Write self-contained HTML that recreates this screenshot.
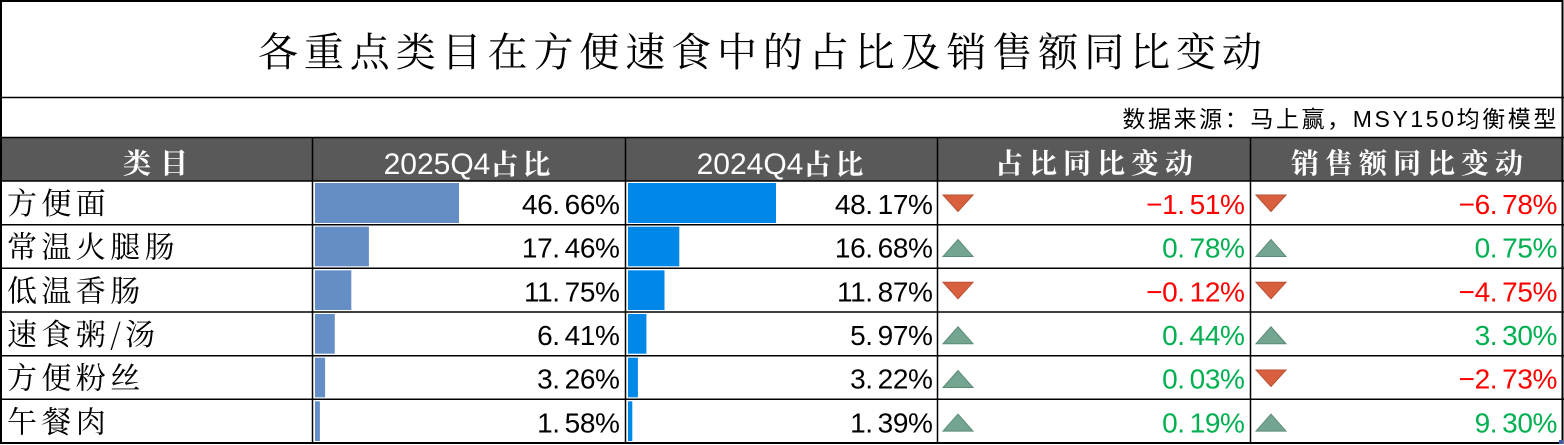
<!DOCTYPE html>
<html><head><meta charset="utf-8"><style>
html,body{margin:0;padding:0;background:#fff;}
svg{display:block;}
.cn{font-family:"Noto Serif CJK SC","Noto Sans CJK SC",serif;}
.num{font-family:"Liberation Sans","Noto Sans CJK SC",sans-serif;}
</style></head><body>
<svg width="1564" height="445" viewBox="0 0 1564 445" xmlns="http://www.w3.org/2000/svg">
<rect x="0" y="0" width="1564" height="445" fill="#fff"/>
<rect x="1" y="137.5" width="1562" height="43.5" fill="#595959"/>
<text class="cn" x="258" y="66" font-size="40" letter-spacing="5.9" fill="#000">各重点类目在方便速食中的占比及销售额同比变动</text>
<text x="1559" y="127" font-size="23" letter-spacing="2.6" text-anchor="end" fill="#000" font-family="Liberation Sans, Noto Sans CJK SC, sans-serif">数据来源：马上赢，MSY150均衡模型</text>
<g fill="#fff">
<text class="cn" x="160" y="173" font-size="28" font-weight="bold" letter-spacing="9" text-anchor="middle">类目</text>
<text x="469" y="174" text-anchor="middle"><tspan class="num" font-size="30">2025Q4</tspan><tspan class="cn" font-size="28" font-weight="bold" letter-spacing="4">占比</tspan></text>
<text x="782" y="174" text-anchor="middle"><tspan class="num" font-size="30">2024Q4</tspan><tspan class="cn" font-size="28" font-weight="bold" letter-spacing="4">占比</tspan></text>
<text class="cn" x="1097" y="173" font-size="28" font-weight="bold" letter-spacing="6" text-anchor="middle">占比同比变动</text>
<text class="cn" x="1410" y="173" font-size="28" font-weight="bold" letter-spacing="6" text-anchor="middle">销售额同比变动</text>
</g>
<g fill="#668EC6">
<rect x="315" y="183" width="144" height="40"/>
<rect x="315" y="226.7" width="53.9" height="39.6"/>
<rect x="315" y="270.3" width="36.3" height="39.7"/>
<rect x="315" y="314" width="19.8" height="39.7"/>
<rect x="315" y="357.7" width="10.1" height="39.6"/>
<rect x="315" y="401.3" width="4.9" height="39.7"/>
</g>
<g fill="#0088E8">
<rect x="628" y="183" width="148" height="40"/>
<rect x="628" y="226.7" width="51.3" height="39.6"/>
<rect x="628" y="270.3" width="36.5" height="39.7"/>
<rect x="628" y="314" width="18.4" height="39.7"/>
<rect x="628" y="357.7" width="9.9" height="39.6"/>
<rect x="628" y="401.3" width="4.3" height="39.7"/>
</g>
<g class="cn" font-size="30" letter-spacing="4.4" fill="#000">
<text x="7" y="214">方便面</text>
<text x="7" y="257.7">常温火腿肠</text>
<text x="7" y="301.3">低温香肠</text>
<text x="7" y="345">速食粥/汤</text>
<text x="7" y="388.7">方便粉丝</text>
<text x="7" y="432.3">午餐肉</text>
</g>
<g class="num" font-size="28" letter-spacing="-0.4" text-anchor="end" fill="#000">
<text x="619.5" y="214">46.<tspan dx="5">66%</tspan></text>
<text x="619.5" y="257.7">17.<tspan dx="5">46%</tspan></text>
<text x="619.5" y="301.3">11.<tspan dx="5">75%</tspan></text>
<text x="619.5" y="345">6.<tspan dx="5">41%</tspan></text>
<text x="619.5" y="388.7">3.<tspan dx="5">26%</tspan></text>
<text x="619.5" y="432.3">1.<tspan dx="5">58%</tspan></text>
<text x="932.5" y="214">48.<tspan dx="5">17%</tspan></text>
<text x="932.5" y="257.7">16.<tspan dx="5">68%</tspan></text>
<text x="932.5" y="301.3">11.<tspan dx="5">87%</tspan></text>
<text x="932.5" y="345">5.<tspan dx="5">97%</tspan></text>
<text x="932.5" y="388.7">3.<tspan dx="5">22%</tspan></text>
<text x="932.5" y="432.3">1.<tspan dx="5">39%</tspan></text>
</g>
<g class="num" font-size="28" letter-spacing="-0.4" text-anchor="end">
<text x="1244.5" y="214" fill="#FF0000">−1.<tspan dx="5">51%</tspan></text>
<text x="1244.5" y="257.7" fill="#00B050">0.<tspan dx="5">78%</tspan></text>
<text x="1244.5" y="301.3" fill="#FF0000">−0.<tspan dx="5">12%</tspan></text>
<text x="1244.5" y="345" fill="#00B050">0.<tspan dx="5">44%</tspan></text>
<text x="1244.5" y="388.7" fill="#00B050">0.<tspan dx="5">03%</tspan></text>
<text x="1244.5" y="432.3" fill="#00B050">0.<tspan dx="5">19%</tspan></text>
<text x="1557" y="214" fill="#FF0000">−6.<tspan dx="5">78%</tspan></text>
<text x="1557" y="257.7" fill="#00B050">0.<tspan dx="5">75%</tspan></text>
<text x="1557" y="301.3" fill="#FF0000">−4.<tspan dx="5">75%</tspan></text>
<text x="1557" y="345" fill="#00B050">3.<tspan dx="5">30%</tspan></text>
<text x="1557" y="388.7" fill="#FF0000">−2.<tspan dx="5">73%</tspan></text>
<text x="1557" y="432.3" fill="#00B050">9.<tspan dx="5">30%</tspan></text>
</g>
<g stroke-width="1">
<polygon points="943,195 973,195 958,211.5" fill="#D9603F" stroke="#B84E32"/>
<polygon points="1256,195 1286,195 1271,211.5" fill="#D9603F" stroke="#B84E32"/>
<polygon points="943,256.5 973,256.5 958,239.5" fill="#74A590" stroke="#5B8B76"/>
<polygon points="1256,256.5 1286,256.5 1271,239.5" fill="#74A590" stroke="#5B8B76"/>
<polygon points="943,282.3 973,282.3 958,298.8" fill="#D9603F" stroke="#B84E32"/>
<polygon points="1256,282.3 1286,282.3 1271,298.8" fill="#D9603F" stroke="#B84E32"/>
<polygon points="943,343.8 973,343.8 958,326.8" fill="#74A590" stroke="#5B8B76"/>
<polygon points="1256,343.8 1286,343.8 1271,326.8" fill="#74A590" stroke="#5B8B76"/>
<polygon points="943,387.5 973,387.5 958,370.5" fill="#74A590" stroke="#5B8B76"/>
<polygon points="1256,370 1286,370 1271,386.5" fill="#D9603F" stroke="#B84E32"/>
<polygon points="943,431.1 973,431.1 958,414.1" fill="#74A590" stroke="#5B8B76"/>
<polygon points="1256,431.1 1286,431.1 1271,414.1" fill="#74A590" stroke="#5B8B76"/>
</g>
<g stroke="#000" stroke-width="1.5" fill="none">
<line x1="0" y1="97.5" x2="1564" y2="97.5"/>
<line x1="0" y1="137.5" x2="1564" y2="137.5"/>
<line x1="0" y1="181" x2="1564" y2="181"/>
<line x1="0" y1="224.7" x2="1564" y2="224.7"/>
<line x1="0" y1="268.3" x2="1564" y2="268.3"/>
<line x1="0" y1="312" x2="1564" y2="312"/>
<line x1="0" y1="355.7" x2="1564" y2="355.7"/>
<line x1="0" y1="399.3" x2="1564" y2="399.3"/>
<line x1="312.5" y1="137.5" x2="312.5" y2="443"/>
<line x1="625.5" y1="137.5" x2="625.5" y2="443"/>
<line x1="937.5" y1="137.5" x2="937.5" y2="443"/>
<line x1="1250.5" y1="137.5" x2="1250.5" y2="443"/>
</g>
<rect x="1" y="1" width="1561.5" height="442" fill="none" stroke="#000" stroke-width="2"/>
<rect x="1559" y="440" width="4" height="4" fill="#3C5BA8"/>
</svg>
</body></html>
